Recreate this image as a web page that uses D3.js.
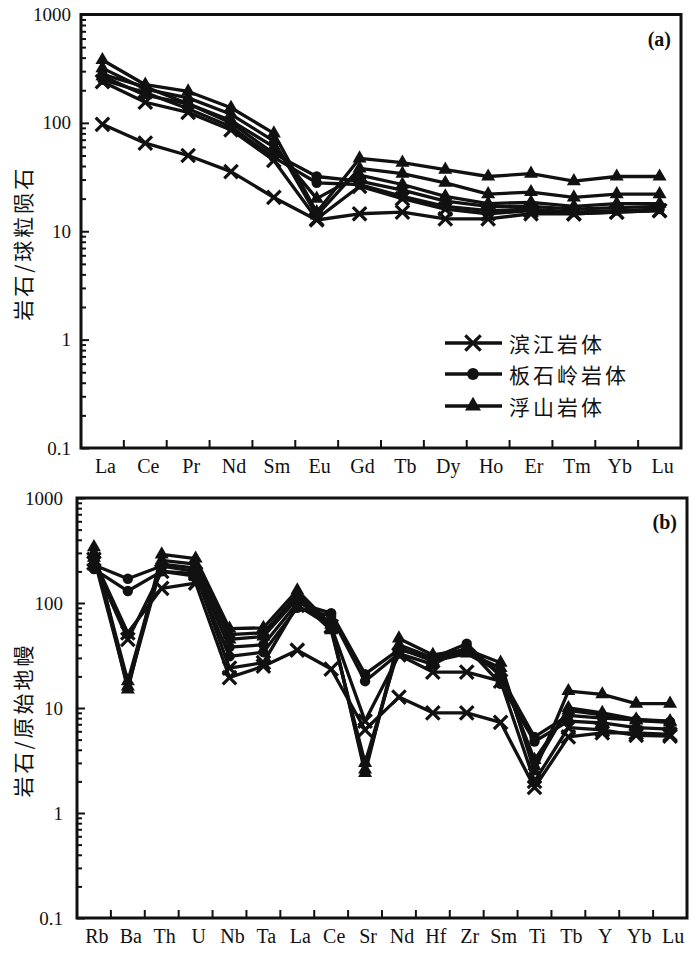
<!DOCTYPE html>
<html>
<head>
<meta charset="utf-8">
<script src="https://cdn.jsdelivr.net/npm/d3@7"></script>
<style>
  body { margin: 0; background: #fff; }
</style>
</head>
<body>
<div id="chart"></div>
<script>
// ---- data ----
var reeElements = ['La', 'Ce', 'Pr', 'Nd', 'Sm', 'Eu', 'Gd', 'Tb', 'Dy', 'Ho', 'Er', 'Tm', 'Yb', 'Lu'];
var pmElements = ['Rb', 'Ba', 'Th', 'U', 'Nb', 'Ta', 'La', 'Ce', 'Sr', 'Nd', 'Hf', 'Zr', 'Sm', 'Ti', 'Tb', 'Y', 'Yb', 'Lu'];

var plutonNames = ['滨江岩体', '板石岭岩体', '浮山岩体'];
var yTickValues = [0.1, 1, 10, 100, 1000];

// (a) chondrite normalised REE
var reeBinjiang = [
    [97, 65, 50, 35.5, 20.5, 12.7, 14.5, 15, 13, 13, 14.5, 14.5, 15, 15.5],
    [240, 155, 125, 86, 45, 13, 26, 20, 16, 14.5, 15.5, 14.5, 15, 15.5]
];
var reeBanshiling = [
    [280, 215, 150, 100, 52, 32, 29, 24, 19, 17, 17, 16, 16.5, 17],
    [250, 190, 135, 92, 48, 28, 27, 21, 17, 15.5, 16, 15, 15.5, 16]
];
var reeFushan = [
    [380, 225, 195, 138, 80, 15, 47, 43, 37, 32, 34, 29, 32, 32],
    [320, 205, 170, 120, 68, 14, 38, 34, 28, 22, 23, 20.5, 22, 22],
    [270, 180, 150, 105, 60, 20, 33, 27, 21, 18, 18.5, 17, 18, 18]
];

// (b) primitive mantle normalised spider diagram
var pmBinjiang = [
    [260, 52, 138, 155, 19.5, 25, 35.5, 23.5, 6.2, 12.7, 9, 9, 7.3, 1.75, 5.3, 5.8, 5.8, 5.6],
    [240, 45, 200, 190, 24, 27, 95, 60, 7.5, 32, 22, 22, 18, 2, 6.5, 6.2, 5.5, 5.4]
];
var pmBanshiling = [
    [230, 170, 225, 200, 38, 40, 100, 80, 21, 36, 30, 41, 20, 5.3, 8.5, 8, 7.7, 7.4],
    [210, 130, 200, 180, 31, 34, 90, 75, 18, 33, 26, 38, 17, 4.8, 7.5, 7.2, 6.5, 6.3]
];
var pmFushan = [
    [340, 15, 290, 265, 57, 58, 132, 62, 2.4, 46, 32, 36, 27, 2.5, 14.5, 13.5, 11, 11],
    [300, 18, 255, 235, 50, 52, 120, 58, 2.6, 40, 30, 34, 24, 2.8, 10, 9, 7.8, 7.5],
    [270, 16, 235, 215, 45, 48, 110, 55, 3, 37, 28, 33, 22, 3.2, 9.5, 8.6, 7.6, 7.3]
];

// ---- drawing ----
var serif = '"Liberation Serif", "Times New Roman", serif';
var cjk = '"Noto Sans CJK SC", sans-serif';
var ink = '#111';

var symbols = [
    { type: d3.symbolTimes, size: 120, fill: 'none', stroke: 3.2 },
    { type: d3.symbolCircle, size: 85, fill: ink, stroke: 0 },
    { type: d3.symbolTriangle, size: 85, fill: ink, stroke: 0 }
];

var svg = d3.select('#chart')
    .append('svg')
    .attr('width', 700)
    .attr('height', 957);

function drawPanel(p) {
    var g = svg.append('g');

    var x = d3.scaleBand().domain(p.cats).range([p.left, p.right]);
    var y = d3.scaleLog().domain([0.1, 1000]).range([p.bottom, p.top]);

    // minor ticks 2..9 inside each decade
    var minor = [];
    yTickValues.slice(0, -1).forEach(function(d) {
        d3.range(2, 10).forEach(function(k) { minor.push(d * k); });
    });

    g.append('g')
        .attr('transform', `translate(${p.left},0)`)
        .call(d3.axisLeft(y).tickValues(minor).tickSize(-5).tickFormat(''))
        .call(function(a) { a.select('.domain').remove(); })
        .selectAll('line').attr('stroke', ink).attr('stroke-width', 2);

    var yAxis = g.append('g')
        .attr('transform', `translate(${p.left},0)`)
        .call(d3.axisLeft(y).tickValues(yTickValues).tickSize(-8)
            .tickPadding(p.labelGap).tickFormat(function(d) { return String(d); }))
        .call(function(a) { a.select('.domain').remove(); });
    yAxis.selectAll('line').attr('stroke', ink).attr('stroke-width', 2);
    yAxis.selectAll('text')
        .attr('font-family', serif)
        .attr('font-size', 19)
        .attr('fill', ink);

    // category labels
    var xAxis = g.append('g')
        .attr('transform', `translate(3,${p.bottom})`)
        .call(d3.axisBottom(x).tickSize(0).tickPadding(11))
        .call(function(a) { a.select('.domain').remove(); });
    xAxis.selectAll('text')
        .attr('font-family', serif)
        .attr('font-size', 20)
        .attr('fill', ink);

    // ticks between categories
    g.selectAll('.cat-tick')
        .data(p.cats.slice(1))
        .join('line')
        .attr('class', 'cat-tick')
        .attr('x1', function(d) { return x(d); })
        .attr('x2', function(d) { return x(d); })
        .attr('y1', p.bottom)
        .attr('y2', p.bottom - 8)
        .attr('stroke', ink)
        .attr('stroke-width', 2);

    // series
    var line = d3.line()
        .x(function(d, i) { return x(p.cats[i]) + x.bandwidth() / 2; })
        .y(function(d) { return y(d); });

    p.groups.forEach(function(samples, gi) {
        var sym = symbols[gi];
        samples.forEach(function(values) {
            g.append('path')
                .datum(values)
                .attr('d', line)
                .attr('fill', 'none')
                .attr('stroke', ink)
                .attr('stroke-width', 3.3)
                .attr('stroke-linejoin', 'round');

            g.selectAll(null)
                .data(values)
                .join('path')
                .attr('transform', function(d, i) {
                    return `translate(${x(p.cats[i]) + x.bandwidth() / 2},${y(d)})`;
                })
                .attr('d', d3.symbol().type(sym.type).size(sym.size))
                .attr('fill', sym.fill)
                .attr('stroke', sym.stroke ? ink : 'none')
                .attr('stroke-width', sym.stroke);
        });
    });

    // frame
    g.append('rect')
        .attr('x', p.left)
        .attr('y', p.top)
        .attr('width', p.right - p.left)
        .attr('height', p.bottom - p.top)
        .attr('fill', 'none')
        .attr('stroke', ink)
        .attr('stroke-width', 3);

    // panel tag
    g.append('text')
        .attr('x', p.right - 10)
        .attr('y', p.top + 31)
        .attr('text-anchor', 'end')
        .attr('font-family', serif)
        .attr('font-weight', 'bold')
        .attr('font-size', 20)
        .attr('fill', ink)
        .text(p.tag);

    // y axis title
    g.append('text')
        .attr('transform', `translate(22,${(p.top + p.bottom) / 2 + 12}) rotate(-90)`)
        .attr('text-anchor', 'middle')
        .attr('dominant-baseline', 'central')
        .attr('font-family', cjk)
        .attr('font-size', 21)
        .attr('letter-spacing', 3)
        .attr('fill', ink)
        .text(p.yLabel);

    return { x: x, y: y };
}

drawPanel({
    left: 81, right: 681, top: 14.5, bottom: 448,
    cats: reeElements,
    groups: [reeBinjiang, reeBanshiling, reeFushan],
    labelGap: 10,
    tag: '(a)',
    yLabel: '岩石/球粒陨石'
});

drawPanel({
    left: 77, right: 687, top: 498, bottom: 918,
    cats: pmElements,
    groups: [pmBinjiang, pmBanshiling, pmFushan],
    labelGap: 14,
    tag: '(b)',
    yLabel: '岩石/原始地幔'
});

// legend inside panel (a)
var legendRows = [343, 374, 406];
var legend = svg.append('g');
plutonNames.forEach(function(name, i) {
    var row = legend.append('g').attr('transform', `translate(0,${legendRows[i]})`);
    row.append('line')
        .attr('x1', 445).attr('x2', 502)
        .attr('stroke', ink).attr('stroke-width', 3.3);
    row.append('path')
        .attr('transform', 'translate(473,0)')
        .attr('d', d3.symbol().type(symbols[i].type).size(symbols[i].size * 1.3))
        .attr('fill', symbols[i].fill)
        .attr('stroke', symbols[i].stroke ? ink : 'none')
        .attr('stroke-width', symbols[i].stroke);
    row.append('text')
        .attr('x', 509)
        .attr('dominant-baseline', 'central')
        .attr('font-family', cjk)
        .attr('font-size', 21)
        .attr('letter-spacing', 3)
        .attr('fill', ink)
        .text(name);
});
</script>
</body>
</html>
